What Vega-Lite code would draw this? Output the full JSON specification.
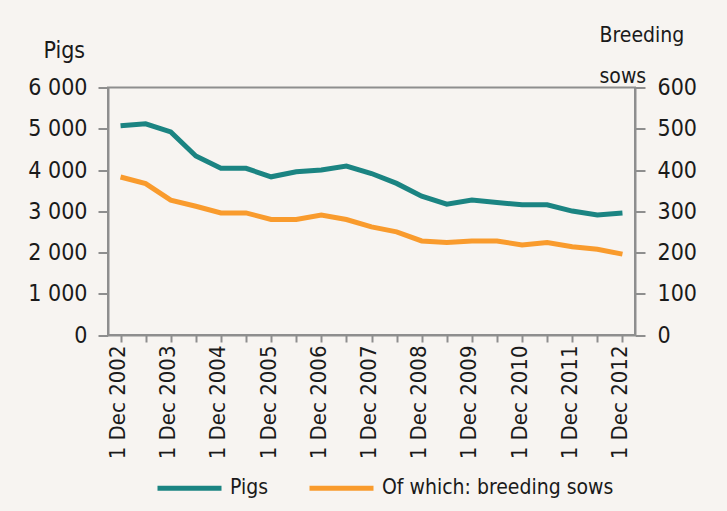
{
  "$schema": "https://vega.github.io/schema/vega-lite/v6.json",
  "width": 527,
  "height": 247.5,
  "autosize": "none",
  "padding": {"left": 108, "top": 87.5, "right": 92, "bottom": 176},
  "background": "#f7f4f1",
  "config": {
    "font": "'Liberation Sans Narrow', 'DejaVu Sans Condensed', 'Roboto Condensed', 'Arial Narrow', Roboto, sans-serif",
    "view": {"stroke": "#8e8e8e", "strokeWidth": 2},
    "axis": {
      "domainColor": "#8e8e8e",
      "domainWidth": 2,
      "tickColor": "#8e8e8e",
      "tickWidth": 2,
      "grid": false,
      "labelFontSize": 23,
      "labelColor": "#1a1a1a",
      "titleFontSize": 21,
      "titleFontWeight": "normal",
      "titleColor": "#1a1a1a"
    }
  },
  "data": {
    "values": [
      {"period": "1 Dec 2002", "pigs": 5070, "sows": 383},
      {"period": "1 Jun 2003", "pigs": 5120, "sows": 367},
      {"period": "1 Dec 2003", "pigs": 4925, "sows": 327},
      {"period": "1 Jun 2004", "pigs": 4340, "sows": 312},
      {"period": "1 Dec 2004", "pigs": 4040, "sows": 296},
      {"period": "1 Jun 2005", "pigs": 4040, "sows": 296},
      {"period": "1 Dec 2005", "pigs": 3835, "sows": 280},
      {"period": "1 Jun 2006", "pigs": 3955, "sows": 280},
      {"period": "1 Dec 2006", "pigs": 4000, "sows": 291},
      {"period": "1 Jun 2007", "pigs": 4095, "sows": 280},
      {"period": "1 Dec 2007", "pigs": 3915, "sows": 262},
      {"period": "1 Jun 2008", "pigs": 3675, "sows": 250},
      {"period": "1 Dec 2008", "pigs": 3367, "sows": 228},
      {"period": "1 Jun 2009", "pigs": 3173, "sows": 224},
      {"period": "1 Dec 2009", "pigs": 3270, "sows": 228},
      {"period": "1 Jun 2010", "pigs": 3214, "sows": 228},
      {"period": "1 Dec 2010", "pigs": 3156, "sows": 218},
      {"period": "1 Jun 2011", "pigs": 3156, "sows": 224},
      {"period": "1 Dec 2011", "pigs": 3004, "sows": 214},
      {"period": "1 Jun 2012", "pigs": 2907, "sows": 208},
      {"period": "1 Dec 2012", "pigs": 2955, "sows": 196}
    ]
  },
  "encoding": {
    "x": {
      "field": "period",
      "type": "ordinal",
      "sort": null,
      "scale": {"paddingInner": 0, "paddingOuter": 0},
      "axis": {
        "title": null,
        "labelAngle": 270,
        "labelAlign": "right",
        "labelBaseline": "middle",
        "labelFontSize": 22,
        "labelPadding": 3,
        "labelOffset": -3,
        "labelOverlap": false,
        "labelLimit": 200,
        "tickSize": 7,
        "bandPosition": 0,
        "labelExpr": "indexof(datum.value, 'Dec') >= 0 ? datum.value : ''"
      }
    }
  },
  "layer": [
    {
      "mark": {"type": "line", "strokeWidth": 5},
      "encoding": {
        "y": {
          "field": "pigs",
          "type": "quantitative",
          "scale": {"domain": [0, 6000]},
          "axis": {
            "values": [0, 1000, 2000, 3000, 4000, 5000, 6000],
            "labelExpr": "replace(format(datum.value, ','), ',', ' ')",
            "tickSize": 10,
            "labelPadding": 11,
            "title": "Pigs",
            "titleFontSize": 23,
            "titleAngle": 0,
            "titleAlign": "left",
            "titleBaseline": "alphabetic",
            "titleX": -65,
            "titleY": -30
          }
        },
        "color": {
          "datum": "Pigs",
          "type": "nominal",
          "scale": {"domain": ["Pigs", "Of which: breeding sows"], "range": ["#1b8482", "#f99b2d"]},
          "legend": {
            "title": null,
            "orient": "none",
            "legendX": 47,
            "legendY": 366,
            "direction": "horizontal",
            "symbolType": "stroke",
            "symbolSize": 4096,
            "symbolStrokeWidth": 5,
            "labelFontSize": 21,
            "labelColor": "#1a1a1a",
            "labelOffset": 6,
            "columnPadding": 30,
            "labelLimit": 400
          }
        }
      }
    },
    {
      "mark": {"type": "line", "strokeWidth": 5},
      "encoding": {
        "y": {
          "field": "sows",
          "type": "quantitative",
          "scale": {"domain": [0, 600]},
          "axis": {
            "orient": "right",
            "values": [0, 100, 200, 300, 400, 500, 600],
            "tickSize": 10,
            "labelPadding": 12,
            "title": ["Breeding", "sows"],
            "titleAngle": 0,
            "titleAlign": "left",
            "titleBaseline": "alphabetic",
            "titleLineHeight": 41,
            "titleX": -36,
            "titleY": -46
          }
        },
        "color": {"datum": "Of which: breeding sows", "type": "nominal"}
      }
    }
  ],
  "resolve": {"scale": {"y": "independent"}}
}
